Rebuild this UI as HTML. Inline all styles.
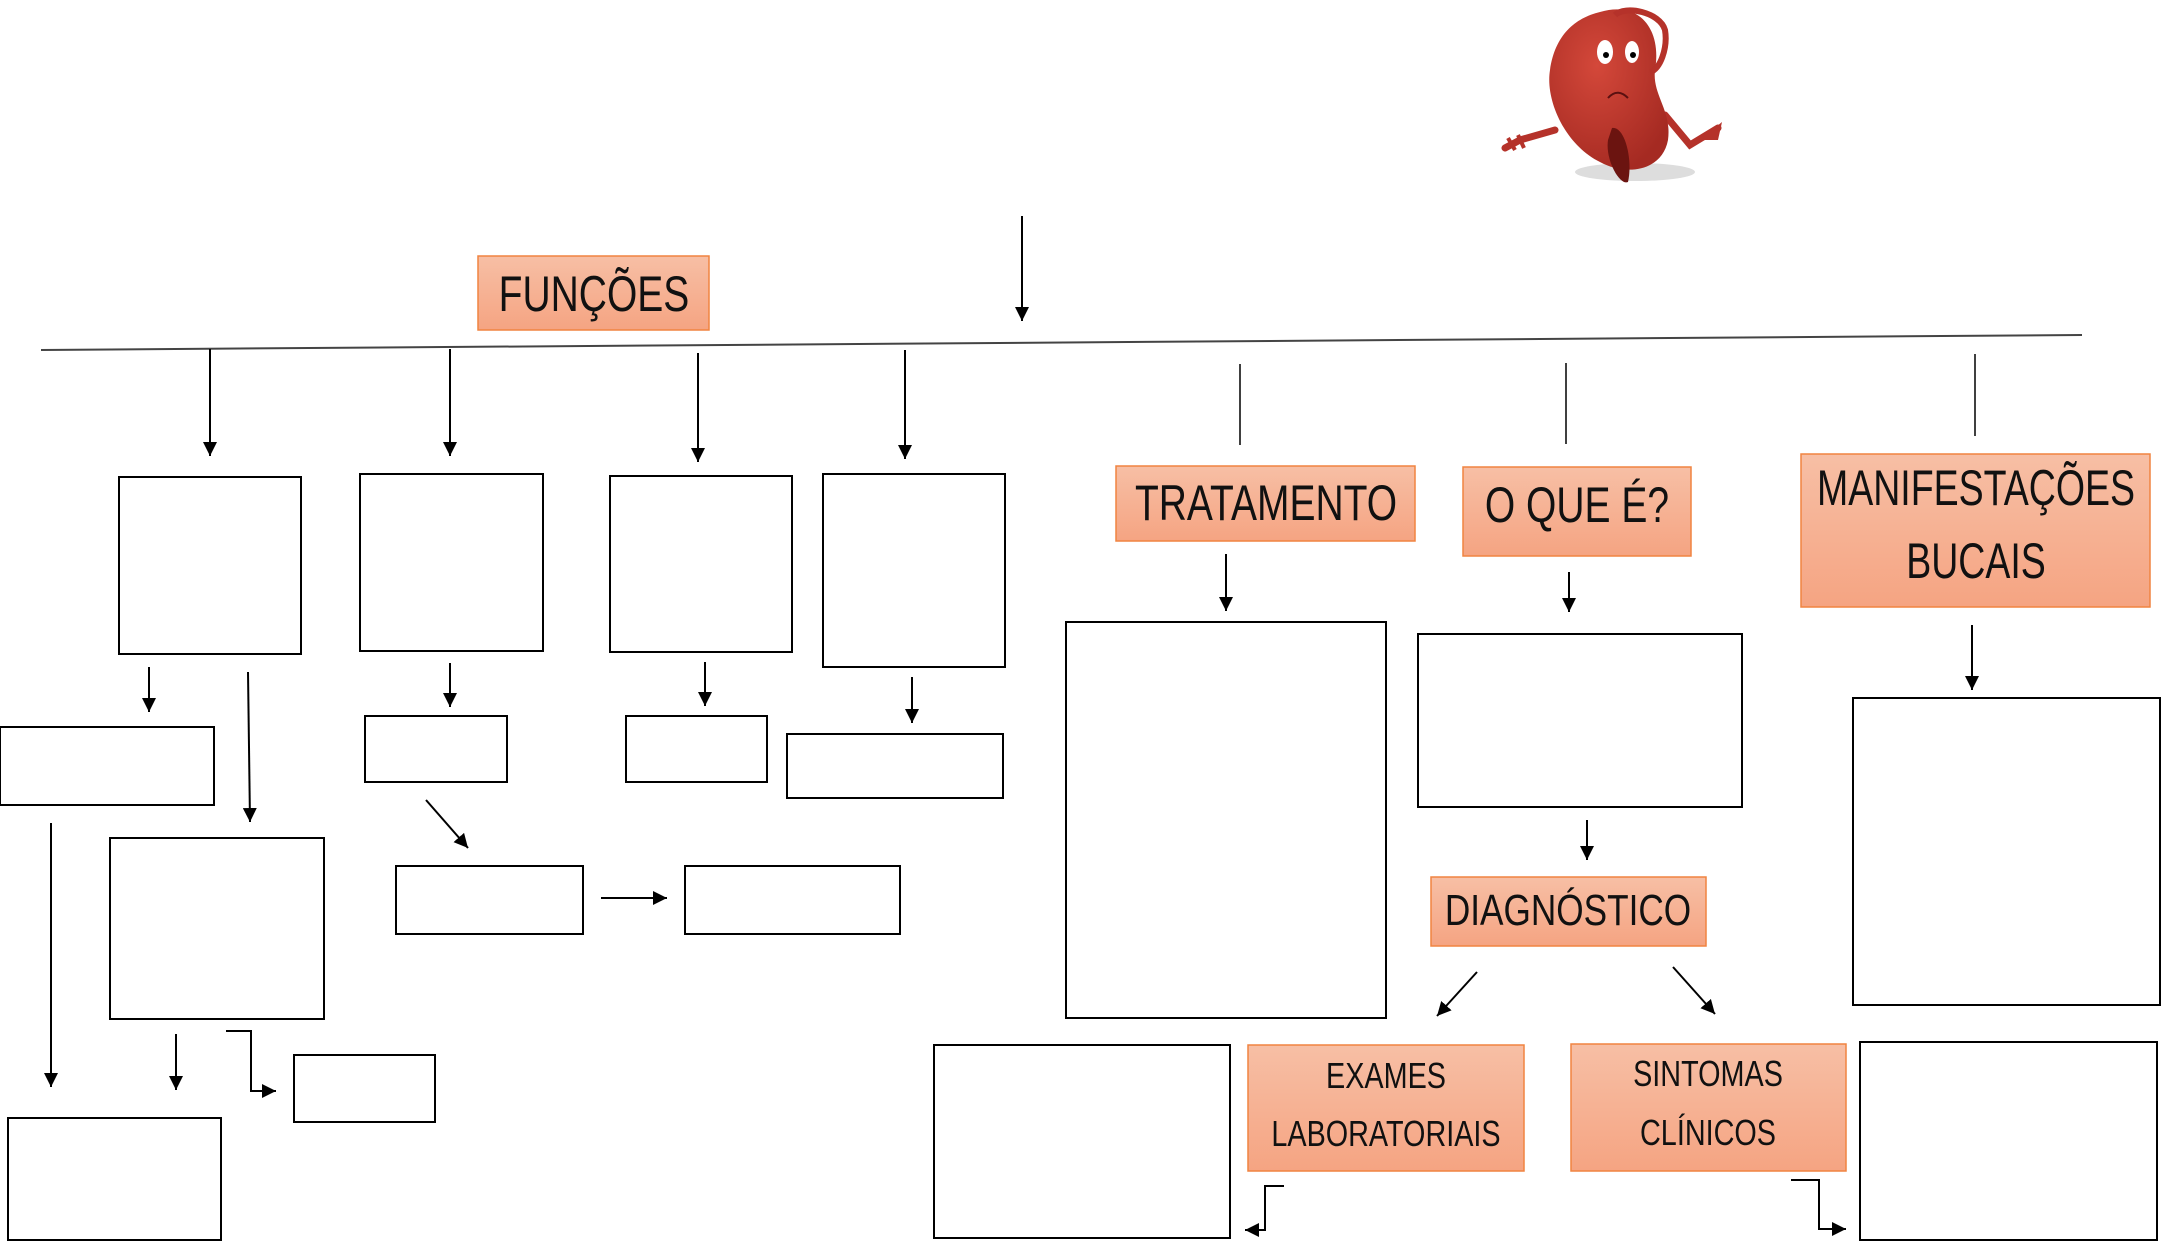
<!DOCTYPE html>
<html><head><meta charset="utf-8"><style>
html,body{margin:0;padding:0;background:#fff;}
svg{display:block;}
text{font-family:"Liberation Sans Narrow","Liberation Sans",sans-serif;fill:#111;text-anchor:middle;}
</style></head><body>
<svg width="2162" height="1242" viewBox="0 0 2162 1242" xmlns="http://www.w3.org/2000/svg">
<defs>
<marker id="b" viewBox="0 0 10 10" markerWidth="14" markerHeight="14" refX="10" refY="5" orient="auto" markerUnits="userSpaceOnUse"><path d="M0,0 L10,5 L0,10 z" fill="#000"/></marker>
<linearGradient id="g" x1="0" y1="0" x2="0" y2="1"><stop offset="0" stop-color="#f7bfa5"/><stop offset="1" stop-color="#f5a482"/></linearGradient>
<radialGradient id="k" cx="0.4" cy="0.35" r="0.7"><stop offset="0" stop-color="#d4483a"/><stop offset="1" stop-color="#a52a22"/></radialGradient>
</defs>
<g stroke="#000" stroke-width="2" fill="none">
<line x1="41" y1="350" x2="2082" y2="335" stroke="#444"/>
<line x1="1022" y1="216" x2="1022" y2="321" marker-end="url(#b)"/>
<line x1="210" y1="349" x2="210" y2="456" marker-end="url(#b)"/>
<line x1="450" y1="349" x2="450" y2="456" marker-end="url(#b)"/>
<line x1="698" y1="353" x2="698" y2="462" marker-end="url(#b)"/>
<line x1="905" y1="350" x2="905" y2="459" marker-end="url(#b)"/>
<rect x="119" y="477" width="182" height="177"/>
<rect x="360" y="474" width="183" height="177"/>
<rect x="610" y="476" width="182" height="176"/>
<rect x="823" y="474" width="182" height="193"/>
<line x1="149" y1="667" x2="149" y2="712" marker-end="url(#b)"/>
<line x1="248" y1="672" x2="250" y2="822" marker-end="url(#b)"/>
<line x1="450" y1="663" x2="450" y2="707" marker-end="url(#b)"/>
<line x1="705" y1="662" x2="705" y2="706" marker-end="url(#b)"/>
<line x1="912" y1="677" x2="912" y2="723" marker-end="url(#b)"/>
<rect x="0" y="727" width="214" height="78"/>
<rect x="365" y="716" width="142" height="66"/>
<rect x="626" y="716" width="141" height="66"/>
<rect x="787" y="734" width="216" height="64"/>
<line x1="51" y1="823" x2="51" y2="1087" marker-end="url(#b)"/>
<rect x="110" y="838" width="214" height="181"/>
<line x1="426" y1="800" x2="468" y2="848" marker-end="url(#b)"/>
<rect x="396" y="866" width="187" height="68"/>
<line x1="601" y1="898" x2="667" y2="898" marker-end="url(#b)"/>
<rect x="685" y="866" width="215" height="68"/>
<line x1="176" y1="1034" x2="176" y2="1090" marker-end="url(#b)"/>
<polyline points="226,1031 251,1031 251,1091 276,1091" marker-end="url(#b)"/>
<rect x="294" y="1055" width="141" height="67"/>
<rect x="8" y="1118" width="213" height="122"/>
<line x1="1240" y1="364" x2="1240" y2="445" stroke-width="1.5"/>
<line x1="1566" y1="363" x2="1566" y2="444" stroke-width="1.5"/>
<line x1="1975" y1="354" x2="1975" y2="436" stroke-width="1.5"/>
<line x1="1226" y1="554" x2="1226" y2="611" marker-end="url(#b)"/>
<line x1="1569" y1="572" x2="1569" y2="612" marker-end="url(#b)"/>
<line x1="1972" y1="625" x2="1972" y2="690" marker-end="url(#b)"/>
<rect x="1066" y="622" width="320" height="396"/>
<rect x="1418" y="634" width="324" height="173"/>
<rect x="1853" y="698" width="307" height="307"/>
<line x1="1587" y1="820" x2="1587" y2="860" marker-end="url(#b)"/>
<line x1="1477" y1="972" x2="1437" y2="1016" marker-end="url(#b)"/>
<line x1="1673" y1="967" x2="1715" y2="1014" marker-end="url(#b)"/>
<rect x="934" y="1045" width="296" height="193"/>
<rect x="1860" y="1042" width="297" height="198"/>
<polyline points="1284,1186 1265,1186 1265,1230 1245,1230" marker-end="url(#b)"/>
<polyline points="1791,1180 1819,1180 1819,1229 1846,1229" marker-end="url(#b)"/>
</g>
<g fill="url(#g)" stroke="#f08440" stroke-width="1.5">
<rect x="478" y="256" width="231" height="74"/>
<rect x="1116" y="466" width="299" height="75"/>
<rect x="1463" y="467" width="228" height="89"/>
<rect x="1801" y="454" width="349" height="153"/>
<rect x="1431" y="877" width="275" height="69"/>
<rect x="1248" y="1045" width="276" height="126"/>
<rect x="1571" y="1044" width="275" height="127"/>
</g>
<g font-size="50">
<text x="594" y="311" transform="translate(594 0) scale(0.78 1) translate(-594 0)">FUNÇÕES</text>
<text x="1266" y="520" transform="translate(1266 0) scale(0.78 1) translate(-1266 0)">TRATAMENTO</text>
<text x="1577" y="522" transform="translate(1577 0) scale(0.78 1) translate(-1577 0)">O QUE É?</text>
<text x="1976" y="505" transform="translate(1976 0) scale(0.75 1) translate(-1976 0)">MANIFESTAÇÕES</text>
<text x="1976" y="578" transform="translate(1976 0) scale(0.75 1) translate(-1976 0)">BUCAIS</text>
<text x="1568" y="925" font-size="44" transform="translate(1568 0) scale(0.8 1) translate(-1568 0)">DIAGNÓSTICO</text>
<text x="1386" y="1088" font-size="36" transform="translate(1386 0) scale(0.8 1) translate(-1386 0)">EXAMES</text>
<text x="1386" y="1146" font-size="36" transform="translate(1386 0) scale(0.8 1) translate(-1386 0)">LABORATORIAIS</text>
<text x="1708" y="1086" font-size="36" transform="translate(1708 0) scale(0.8 1) translate(-1708 0)">SINTOMAS</text>
<text x="1708" y="1145" font-size="36" transform="translate(1708 0) scale(0.8 1) translate(-1708 0)">CLÍNICOS</text>
</g>
<g>
<ellipse cx="1635" cy="172" rx="60" ry="9" fill="#ddd"/>
<path d="M1505,148 L1520,140 L1555,130" stroke="#b5322a" stroke-width="7" fill="none" stroke-linecap="round"/>
<path d="M1508,138 L1515,150 M1518,135 L1524,148" stroke="#b5322a" stroke-width="4" fill="none"/>
<path d="M1665,115 L1690,145 L1718,128" stroke="#b5322a" stroke-width="7" fill="none" stroke-linecap="round"/>
<path d="M1700,140 L1722,122 L1718,140 z" fill="#b5322a"/>
<path d="M1600,12 C1640,0 1662,30 1655,70 C1652,95 1672,110 1668,140 C1662,172 1625,176 1600,162 C1565,145 1545,100 1550,70 C1555,35 1575,18 1600,12 z" fill="url(#k)"/>
<path d="M1612,128 C1625,126 1633,160 1628,182 C1620,186 1605,160 1608,140 z" fill="#6b1410"/>
<path d="M1615,15 C1625,5 1660,12 1665,30 C1668,48 1660,70 1650,72" stroke="#b5322a" stroke-width="6" fill="none"/>
<ellipse cx="1605" cy="52" rx="8" ry="12" fill="#fff"/>
<ellipse cx="1632" cy="52" rx="7" ry="11" fill="#fff"/>
<circle cx="1606" cy="55" r="3" fill="#000"/><circle cx="1633" cy="55" r="3" fill="#000"/>
<path d="M1608,98 C1615,90 1622,92 1628,98" stroke="#5a1010" stroke-width="2" fill="none"/>
</g>
</svg>
</body></html>
